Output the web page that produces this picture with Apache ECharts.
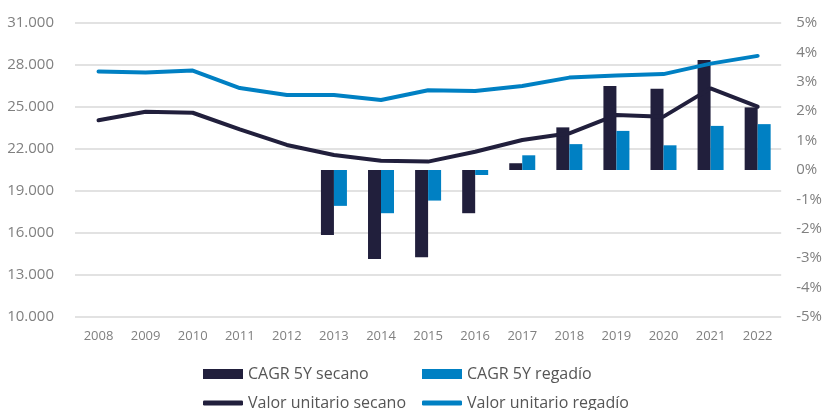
<!DOCTYPE html>
<html>
<head>
<meta charset="utf-8">
<script src="https://cdn.jsdelivr.net/npm/echarts@6/dist/echarts.min.js"></script>
<style>
  html, body { margin: 0; padding: 0; background: #fff; }
  #chart { width: 825px; height: 410px; }
</style>
</head>
<body>
<div id="chart"></div>
<script>
const years = ['2008', '2009', '2010', '2011', '2012', '2013', '2014', '2015',
    '2016', '2017', '2018', '2019', '2020', '2021', '2022'];

// CAGR 5 años (%), eje derecho
const cagrSecano = [null, null, null, null, null, -2.21, -3.03, -2.97, -1.47, 0.23, 1.45, 2.86, 2.76, 3.74, 2.13];
const cagrRegadio = [null, null, null, null, null, -1.22, -1.47, -1.04, -0.17, 0.5, 0.88, 1.33, 0.84, 1.5, 1.56];

// Valor unitario, eje izquierdo
const valorSecano = [24050, 24660, 24590, 23400, 22290, 21570, 21160, 21100, 21800, 22640, 23120, 24430, 24310, 26330, 25020];
const valorRegadio = [27530, 27460, 27600, 26350, 25850, 25860, 25500, 26200, 26150, 26500, 27100, 27250, 27350, 28100, 28650];

const navy = '#211f3c';
const blue = '#0080c3';
const fontFamily = '"Open Sans", "Noto Sans", sans-serif';

const chart = echarts.init(document.getElementById('chart'), null, { renderer: 'canvas' });

// una leyenda por elemento para fijar las columnas
function legendItem(name, left, top, barIcon) {
    return {
        left: left,
        top: top,
        padding: 0,
        itemWidth: 40,
        itemHeight: barIcon ? 10 : 5,
        itemGap: 8,
        icon: barIcon ? 'rect' : 'roundRect',
        textStyle: { color: '#555555', fontSize: 16, fontFamily: fontFamily },
        data: [name]
    };
}

const option = {
    backgroundColor: '#ffffff',
    animation: false,
    textStyle: { fontFamily: fontFamily },
    grid: { left: 75, right: 40, top: 23, bottom: 93 },
    legend: [
        legendItem('CAGR 5Y secano', 203, 366, true),
        legendItem('CAGR 5Y regadío', 422, 366, true),
        legendItem('Valor unitario secano', 203, 395, false),
        legendItem('Valor unitario regadío', 422, 395, false)
    ],
    xAxis: {
        type: 'category',
        data: years,
        axisLine: { show: false },
        axisTick: { show: false },
        axisLabel: { color: '#808080', fontSize: 13, margin: 13 }
    },
    yAxis: [{
        type: 'value',
        min: 10000,
        max: 31000,
        interval: 3000,
        axisLine: { show: false },
        axisTick: { show: false },
        splitLine: { lineStyle: { color: '#d9d9d9', width: 1.5 } },
        axisLabel: {
            color: '#808080',
            fontSize: 15,
            margin: 21,
            formatter: v => v.toLocaleString('de-DE')
        }
    }, {
        type: 'value',
        min: -5,
        max: 5,
        interval: 1,
        position: 'right',
        axisLine: { show: false },
        axisTick: { show: false },
        splitLine: { show: false },
        axisLabel: {
            color: '#808080',
            fontSize: 15,
            margin: 15,
            formatter: v => v + '%'
        }
    }],
    series: [{
        name: 'CAGR 5Y secano',
        type: 'bar',
        yAxisIndex: 1,
        barWidth: 13,
        barGap: '0%',
        itemStyle: { color: navy },
        data: cagrSecano
    }, {
        name: 'CAGR 5Y regadío',
        type: 'bar',
        yAxisIndex: 1,
        barWidth: 13,
        barGap: '0%',
        itemStyle: { color: blue },
        data: cagrRegadio
    }, {
        name: 'Valor unitario secano',
        type: 'line',
        yAxisIndex: 0,
        symbol: 'none',
        z: 3,
        lineStyle: { color: navy, width: 4, cap: 'round' },
        itemStyle: { color: navy },
        data: valorSecano
    }, {
        name: 'Valor unitario regadío',
        type: 'line',
        yAxisIndex: 0,
        symbol: 'none',
        z: 4,
        lineStyle: { color: blue, width: 4, cap: 'round' },
        itemStyle: { color: blue },
        data: valorRegadio
    }]
};

chart.setOption(option);
</script>
</body>
</html>
